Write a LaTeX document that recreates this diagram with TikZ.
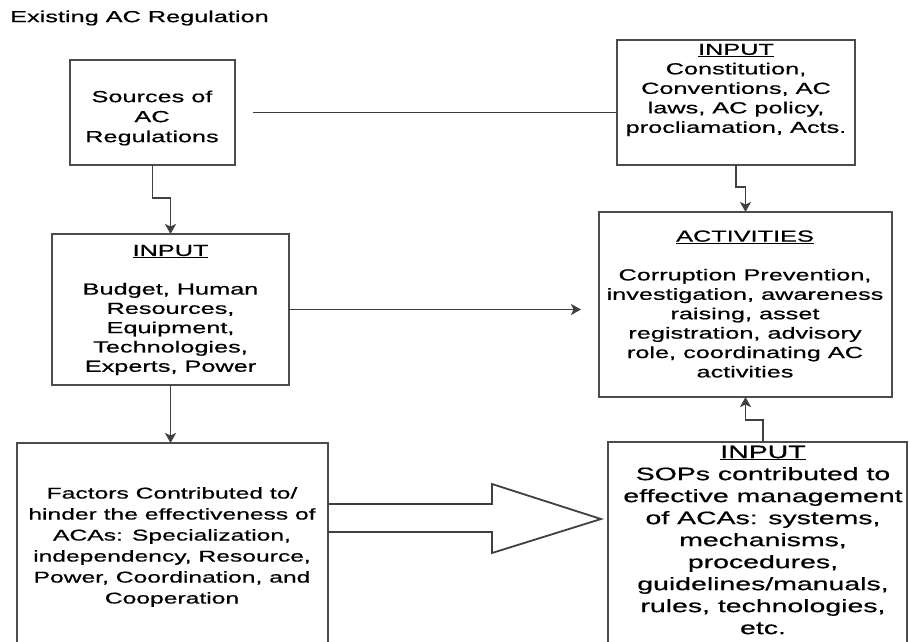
\documentclass[tikz,border=0pt]{standalone}
\usepackage{fontspec}
\setmainfont{Liberation Sans}[FakeStretch=1.58,FakeBold=0.6]
\usetikzlibrary{arrows.meta,calc}
\begin{document}
\begin{tikzpicture}[x=1pt,y=-1pt,
  box/.style={draw=black!70, line width=2pt, fill=white, inner sep=0pt, outer sep=0pt},
  txt/.style={align=center, inner sep=0pt, text=black, font=\fontsize{16}{19.5}\selectfont},
  link/.style={draw=black!75, line width=1.8pt},
  arr/.style={link, -{Stealth[length=10pt,width=11pt,inset=2.5pt]}}]
\useasboundingbox (0,0) rectangle (910,641);
\clip (0,0) rectangle (910,641);
\fill[white] (0,0) rectangle (910,641);

% heading
\node[txt, anchor=west] (title) at (10,18) {Existing AC Regulation};

% boxes
\node[box, minimum width=165pt, minimum height=105pt] (src) at (152.5,112.5) {};
\node[box, minimum width=238pt, minimum height=125pt] (inp) at (736,102.5) {};
\node[box, minimum width=293pt, minimum height=185pt] (act) at (745.5,304.5) {};
\node[box, minimum width=237pt, minimum height=151pt] (bud) at (170.5,309.5) {};
\node[box, minimum width=311pt, minimum height=217pt] (fac) at (172.5,551.5) {};
\node[box, minimum width=299pt, minimum height=218pt] (sop) at (757.5,551) {};

% box texts
\node[txt, font=\fontsize{16}{20}\selectfont] (srctxt) at (152,118)
  {Sources of\\AC\\Regulations};
\node[txt] (inptxt) at (736,90)
  {\underline{INPUT}\\Constitution,\\Conventions, AC\\laws, AC policy,\\procliamation, Acts.};
\node[txt, font=\fontsize{16}{19.4}\selectfont] (acttxt) at (745,304)
  {\underline{ACTIVITIES}\\[19.4pt]Corruption Prevention,\\investigation, awareness\\raising, asset\\registration, advisory\\role, coordinating AC\\activities};
\node[txt, font=\fontsize{16}{19.3}\selectfont] (budtxt) at (170.5,310)
  {\underline{INPUT}\\[19.3pt]Budget, Human\\Resources,\\Equipment,\\Technologies,\\Experts, Power};
\node[txt, font=\fontsize{15.6}{21}\selectfont] (factxt) at (172,547)
  {Factors Contributed to/\\hinder the effectiveness of\\ACAs: Specialization,\\independency, Resource,\\Power, Coordination, and\\Cooperation};
\node[txt, font=\fontsize{18}{22}\selectfont] (soptxt) at (763,540)
  {\underline{INPUT}\\SOPs contributed to\\effective management\\of ACAs: systems,\\mechanisms,\\procedures,\\guidelines/manuals,\\rules, technologies,\\etc.};

% connectors
\draw[link, shorten <=18pt] (src.east) -- (src.east -| inp.west);
\draw[arr] (src.south) -- ++(0,33) -| (bud.north);
\draw[arr] (bud.south) -- (bud.south |- fac.north);
\draw[arr, shorten >=18pt] (bud.east) -- (bud.east -| act.west);
\draw[arr] (inp.south) -- ++(0,22) -| (act.north);
\draw[arr] (soptxt.north |- sop.north) -- ++(0,-22) -| (act.south);

% hollow block arrow from the factors box
\coordinate (ha) at (fac.east |- 0,518);
\draw[link, line join=miter] (ha) ++(0,-14) -- ++(164,0) -- ++(0,-20)
  -- ++(109,35) -- ++(-109,34) -- ++(0,-21) -- ++(-164,0);
\end{tikzpicture}
\end{document}
